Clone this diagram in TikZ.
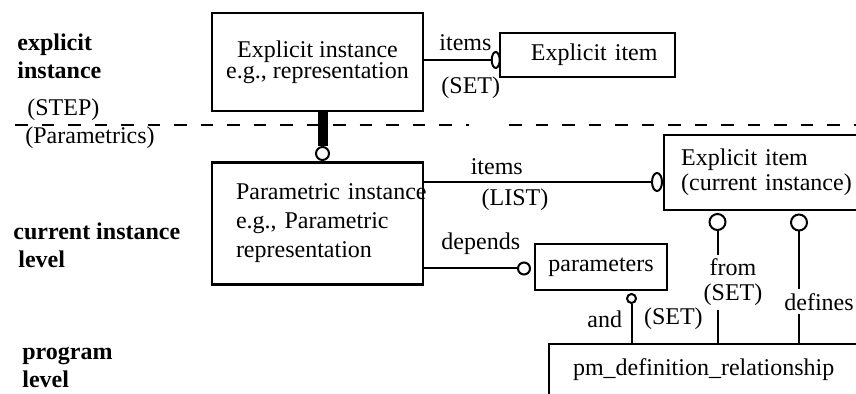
\documentclass[tikz,border=0pt]{standalone}
\usepackage{fontspec}
\setmainfont{Liberation Serif}
\usetikzlibrary{shapes.geometric, positioning}

\begin{document}
\begin{tikzpicture}[x=0.5pt, y=-0.5pt, font=\fontsize{12}{14.5}\selectfont,
      box/.style={draw, line width=1.2pt, inner sep=0pt},
      lvl/.style={font=\fontsize{12}{14}\selectfont\bfseries, align=left, anchor=west, inner sep=0pt},
      tag/.style={anchor=west, inner sep=0pt},
      ring/.style={draw, circle, line width=1pt, inner sep=0pt},
      oval/.style={draw, ellipse, line width=1pt, inner sep=0pt, minimum width=4pt, minimum height=8pt},
      link/.style={line width=1pt},
      bar/.style={line width=5pt},
      sep/.style={line width=1.4pt, dash pattern=on 6.25pt off 7pt},
      lab/.style={inner sep=0pt}]
    \useasboundingbox (0,0) rectangle (856,394);
    \node[lvl] (lvlexp) at (17,56) {explicit\\instance};
    \node[tag] (stepl) at (27,110) {(STEP)};
    \node[tag] (paraml) at (25,138) {(Parametrics)};
    \node[lvl] (lvlcur) at (13,245.5) {current instance\\\hspace{2.5pt}level};
    \node[lvl] (lvlprog) at (22,367) {program\\level};
    \draw[sep] (15,125) -- (469,125);
    \draw[sep] (509,125) -- (856,125);
    \node[box, minimum width=105.5pt, minimum height=49pt, align=center] (expinst) at (317.5,62) {Explicit instance\\[-4pt]e.g., representation};
    \node[box, minimum height=22pt, text width=70pt, inner xsep=8.75pt, align=right] (expitem) at (587.5,55) {Explicit item};
    \node[box, minimum height=61pt, text width=81.5pt, inner xsep=12pt, align=left] (pinst) at (317.5,223.5) {\mbox{Parametric instance}\\e.g., Parametric\\representation};
    \node[box, anchor=west, minimum height=37.5pt, text width=90pt, inner xsep=8.5pt, align=left] (curitem) at (663,172.5) {Explicit item\\[-2pt](current instance)};
    \node[box, minimum width=66pt, minimum height=23pt] (params) at (601,267) {parameters};
    \node[box, anchor=north west, minimum width=154.5pt, minimum height=30pt, text depth=7.5pt] (pmdef) at (548,343) {pm\_definition\_relationship};
    \node[ring, minimum size=6.5pt] (rbar) at (322.5,153.5) {};
    \node[oval] (oexp) at (495.7,60) {};
    \node[oval, minimum width=5pt, minimum height=9pt] (ocur) at (657,182) {};
    \node[ring, minimum size=6pt] (rdep) at (524,268.5) {};
    \node[ring, minimum size=4.5pt] (rand) at (631.5,298.5) {};
    \node[ring, minimum size=8pt] (rfrom) at (717.5,222) {};
    \node[ring, minimum size=8pt] (rdef) at (799,222.5) {};
    \draw[bar] (expinst.south -| rbar) -- (rbar.north);
    \draw[link] (expinst.east |- oexp) -- node[lab, above=4pt, pos=.62]{items} node[lab, below=8pt, pos=.70]{(SET)} (oexp.west);
    \draw[link] (pinst.east |- ocur) -- node[lab, above=3pt, pos=.32]{items} node[lab, below=3pt, pos=.40]{(LIST)} (ocur.west);
    \draw[link] (pinst.east |- rdep) -- node[lab, above=6.5pt, pos=.61]{depends} (rdep.west);
    \draw[link] (rand.south) -- node[lab, left=4.25pt, pos=.38]{and} node[lab, right=5.75pt, pos=.38]{(SET)} (pmdef.north -| rand);
    \draw[link] (rfrom.south) -- node[lab, fill=white, inner sep=2pt, align=center, xshift=7.75pt, pos=.46]{from\\[-2pt](SET)} (pmdef.north -| rfrom);
    \draw[link] (rdef.south) -- node[lab, fill=white, inner sep=2pt, xshift=10pt, pos=.63]{defines} (pmdef.north -| rdef);
\end{tikzpicture}
\end{document}
